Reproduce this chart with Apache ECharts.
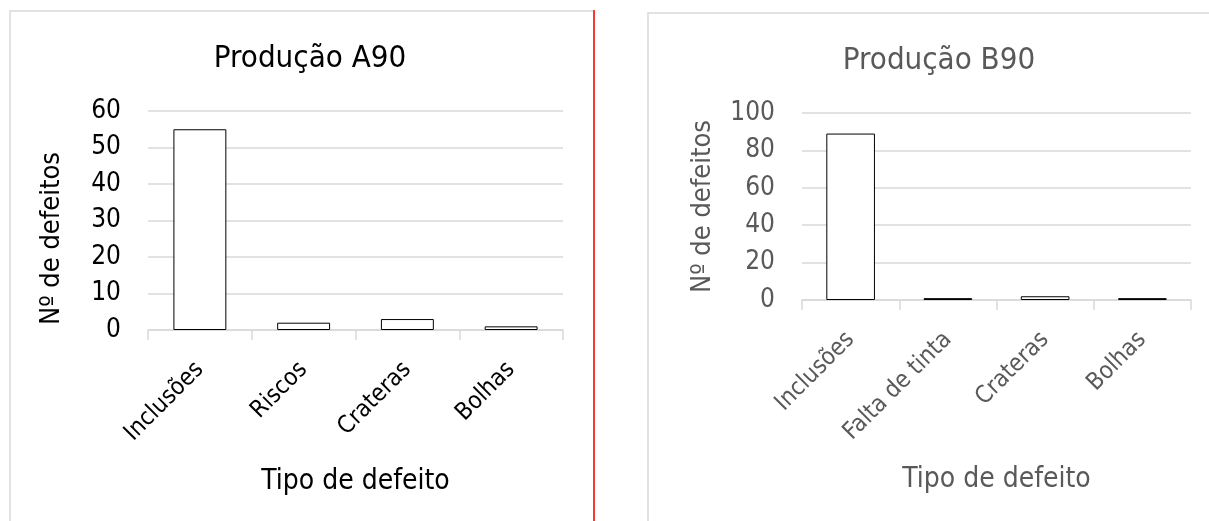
<!DOCTYPE html>
<html>
<head>
<meta charset="utf-8">
<script src="https://cdn.jsdelivr.net/npm/echarts@6/dist/echarts.min.js"></script>
<style>
html,body{margin:0;padding:0;background:#fff;}
#main{width:1209px;height:521px;}
</style>
</head>
<body>
<div id="main"></div>
<script>
var catA = ['Inclusões', 'Riscos', 'Crateras', 'Bolhas'];
var valA = [55, 2, 3, 1];
var catB = ['Inclusões', 'Falta de tinta', 'Crateras', 'Bolhas'];
var valB = [89, 1, 2, 1];

var tituloA = 'Produção A90';
var tituloB = 'Produção B90';
var nomeY = 'Nº de defeitos';
var nomeX = 'Tipo de defeito';

var fonte = '"Liberation Sans Narrow", "DejaVu Sans Condensed", "Roboto", sans-serif';

var myChart = echarts.init(document.getElementById('main'));

function eixoX(idx, cats, cor, gap) {
    return {
        type: 'category',
        gridIndex: idx,
        data: cats,
        boundaryGap: true,
        name: nomeX,
        nameLocation: 'middle',
        nameGap: gap,
        nameTextStyle: {color: cor, fontSize: 28, fontFamily: fonte},
        axisLine: {lineStyle: {color: '#d9d9d9', width: 1.5}},
        axisTick: {show: true, length: 10, lineStyle: {color: '#d9d9d9', width: 1.5}},
        axisLabel: {rotate: 45, margin: 36, color: cor, fontSize: 24, fontFamily: fonte, interval: 0}
    };
}

function eixoY(idx, max, step, cor, gap, pad) {
    return {
        type: 'value',
        gridIndex: idx,
        min: 0,
        max: max,
        interval: step,
        name: nomeY,
        nameLocation: 'middle',
        nameGap: gap,
        nameTextStyle: {color: cor, fontSize: 27, fontFamily: fonte, padding: pad},
        axisLine: {show: false},
        axisTick: {show: false},
        axisLabel: {margin: 27, color: cor, fontSize: 26, fontFamily: fonte},
        splitLine: {lineStyle: {color: '#d9d9d9', width: 1.5}}
    };
}

option = {
    backgroundColor: '#fff',
    animation: false,
    title: [
        {text: tituloA, left: 305, textAlign: 'center', top: 38,
         textStyle: {color: '#000', fontSize: 31, fontWeight: 'normal', fontFamily: fonte}},
        {text: tituloB, left: 934, textAlign: 'center', top: 40,
         textStyle: {color: '#595959', fontSize: 31, fontWeight: 'normal', fontFamily: fonte}}
    ],
    grid: [
        {left: 148, right: 646, top: 111, bottom: 191},
        {left: 802, right: 18, top: 113, bottom: 221}
    ],
    xAxis: [
        eixoX(0, catA, '#000', 138),
        eixoX(1, catB, '#595959', 166)
    ],
    yAxis: [
        eixoY(0, 60, 10, '#000', 83, [0, 36, 0, 0]),
        eixoY(1, 100, 20, '#595959', 86, 0)
    ],
    graphic: [
        {type: 'rect', shape: {x: 10, y: 11, width: 584, height: 530},
         style: {fill: 'none', stroke: '#d9d9d9', lineWidth: 1.5}, z: -1},
        {type: 'line', shape: {x1: 594, y1: 10, x2: 594, y2: 521},
         style: {stroke: '#ff0000', lineWidth: 1.5}},
        {type: 'rect', shape: {x: 648, y: 13, width: 600, height: 530},
         style: {fill: 'none', stroke: '#d9d9d9', lineWidth: 1.5}, z: -1}
    ],
    series: [
        {
            type: 'bar', xAxisIndex: 0, yAxisIndex: 0,
            data: valA, barWidth: '51%',
            itemStyle: {color: '#fff', borderColor: '#000', borderWidth: 1}
        },
        {
            type: 'bar', xAxisIndex: 1, yAxisIndex: 1,
            data: valB, barWidth: '50%',
            itemStyle: {color: '#fff', borderColor: '#000', borderWidth: 1}
        }
    ]
};
myChart.setOption(option);
</script>
</body>
</html>
